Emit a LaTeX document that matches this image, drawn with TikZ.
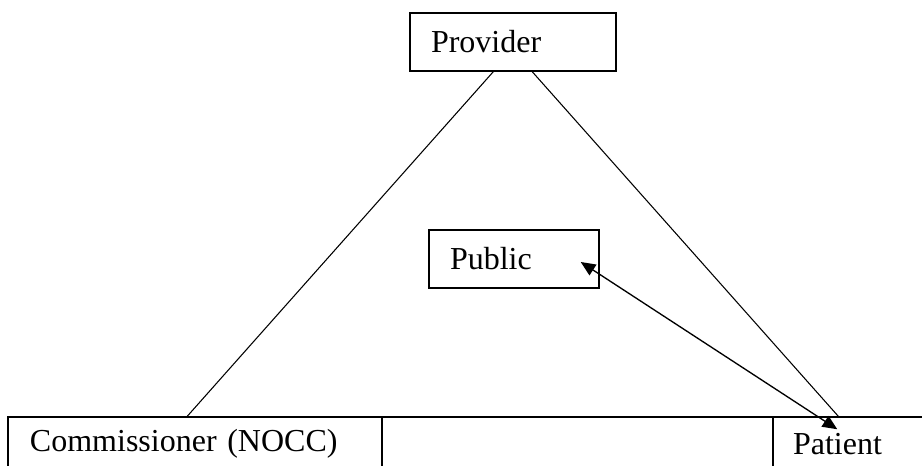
\documentclass[tikz,border=0pt]{standalone}
\usepackage{fontspec}
\setmainfont{Liberation Serif}
\usepackage{tikz}
\usetikzlibrary{positioning, calc, arrows.meta}

\begin{document}
\begin{tikzpicture}[x=0.75pt, y=-0.75pt, line width=0.8pt,
    font=\fontsize{24}{28}\selectfont,
    box/.style={draw, line width=1.1pt, minimum height=43.5pt, inner xsep=15.75pt, align=left},
    cell/.style={draw, line width=1.1pt, minimum height=40.5pt, inner xsep=16.5pt, align=left}]
            % Frame of the page
            \useasboundingbox (0,0) rectangle (922,466);
            \clip (0,0) rectangle (922,466);

            % Top and middle boxes
            \node[box, text width=123pt] (prov) at (513,42) {Provider};
            \node[box, text width=96pt] (pub) at (514,259) {Public};

            % Bottom row (runs off the page)
            \node[cell, text width=247.5pt] (comm) at (195,444) {Commissioner (NOCC)};
            \node[cell, minimum width=293.25pt] (mid) at (577.5,444) {};
            \node[cell, text width=102.75pt, inner xsep=15pt] (pat) at (861.5,444) {Patient};

            % Triangle sides
            \draw ($(prov.south west)+(84,0)$) -- ($(comm.north west)+(180,0)$);
            \draw ($(prov.south west)+(123,0)$) -- ($(pat.north west)+(66,0)$);

            % Public <-> Patient
            \draw[line width=1pt, {Triangle[length=11pt,width=9.5pt]}-{Triangle[length=11pt,width=9.5pt]}]
                ($(pub.east)+(-19,3)$) -- ($(pat.north west)+(65,13)$);
        \end{tikzpicture}
\end{document}
